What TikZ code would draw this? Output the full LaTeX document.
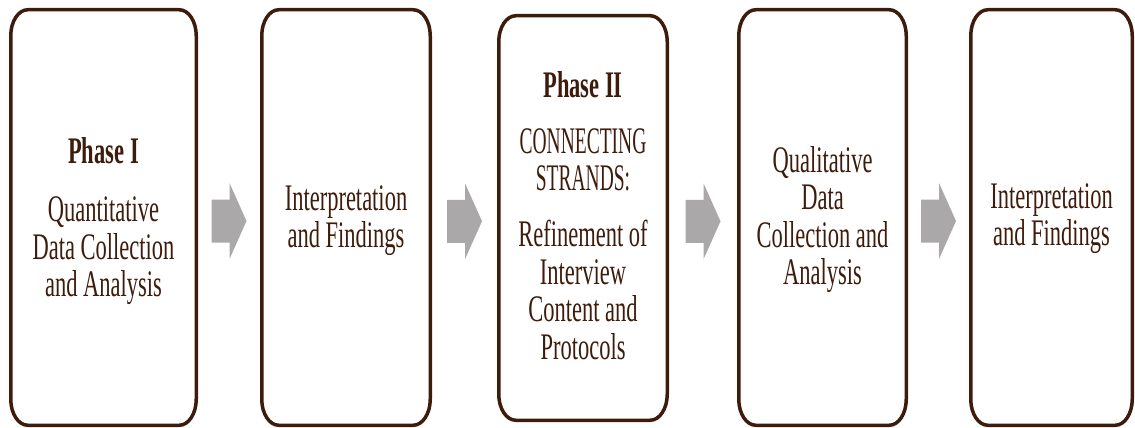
\documentclass[tikz,border=0pt]{standalone}
\usepackage{fontspec}
\setmainfont{Liberation Serif}[FakeStretch=0.6]
\newfontfamily\narrowserif{Liberation Serif}[FakeStretch=0.52]
\usetikzlibrary{calc}
\definecolor{boxbrown}{RGB}{62,28,12}
\definecolor{arrowgray}{RGB}{170,168,168}
\newcommand\ellbox[1]{%
  \draw[boxline] ($(#1.north west)+(0,26)$) arc[start angle=180,end angle=270,x radius=17,y radius=26]
    -- ($(#1.north east)+(-17,0)$) arc[start angle=270,end angle=360,x radius=17,y radius=26]
    -- ($(#1.south east)+(0,-26)$) arc[start angle=0,end angle=90,x radius=17,y radius=26]
    -- ($(#1.south west)+(17,0)$) arc[start angle=90,end angle=180,x radius=17,y radius=26]
    -- cycle;}
\begin{document}
\begin{tikzpicture}[x=1pt,y=-1pt,
  phasebox/.style={draw=none, inner sep=0pt, outer sep=0pt},
  boxline/.style={draw=boxbrown, line width=3.5pt, line join=round},
  phasetext/.style={text=boxbrown, align=center, anchor=base, inner sep=0pt, font=\fontsize{37.5}{37.5}\selectfont},
  blockarrow/.style={fill=arrowgray}]
\useasboundingbox (0,0) rectangle (1135,428);
% boxes
\node[phasebox, minimum width=185.5pt, minimum height=415.5pt] (b1) at (103.5,217.5) {};
\node[phasebox, minimum width=168.5pt, minimum height=415.5pt] (b2) at (346,217.5) {};
\node[phasebox, minimum width=168.5pt, minimum height=404.5pt] (b3) at (583,218) {};
\node[phasebox, minimum width=167.5pt, minimum height=415.5pt] (b4) at (822.5,217.5) {};
\node[phasebox, minimum width=161.5pt, minimum height=415.5pt] (b5) at (1051.5,217.5) {};
\foreach \b in {b1,b2,b3,b4,b5}{\ellbox{\b}}
% texts (anchored at the baseline of their last line)
\node[phasetext] (t1) at (b1.center |- 0,296.5) {\textbf{Phase I}\\[21pt]Quantitative\\Data Collection\\and Analysis};
\node[phasetext] (t2) at (b2.center |- 0,247.5) {Interpretation\\and Findings};
\node[phasetext] (t3) at (b3.center |- 0,359) {\textbf{Phase II}\\[18.5pt]{\narrowserif CONNECTING}\\{\narrowserif STRANDS:}\\[18.5pt]Refinement of\\Interview\\Content and\\Protocols};
\node[phasetext] (t4) at (b4.center |- 0,284.5) {Qualitative\\Data\\Collection and\\Analysis};
\node[phasetext] (t5) at (b5.center |- 0,245.5) {Interpretation\\and Findings};
% block arrows
\foreach \p/\q/\n in {b1/b2/a1, b2/b3/a2, b3/b4/a3, b4/b5/a4}{
  \coordinate (\n) at ($(\p.east)!0.5!(\q.west)+(0,3.5)$);
  \fill[blockarrow] ($(\n)+(-17.5,-21.5)$) -- ($(\n)+(0.5,-21.5)$) -- ($(\n)+(0.5,-38)$)
    -- ($(\n)+(17.5,0)$) -- ($(\n)+(0.5,38)$) -- ($(\n)+(0.5,21.5)$) -- ($(\n)+(-17.5,21.5)$) -- cycle;
}
\end{tikzpicture}
\end{document}
